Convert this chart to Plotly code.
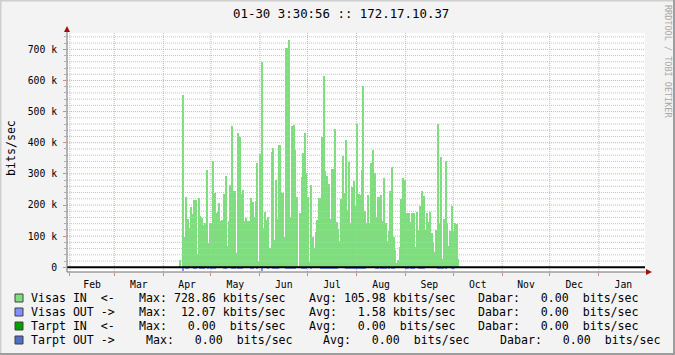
import plotly.graph_objects as go
import pandas as pd

# ---------------- data ----------------
start_date = "2011-04-11"          # first day with traffic
range_start = "2011-01-30 03:30:56"
range_end = "2012-01-30 03:30:56"

# daily average inbound traffic (kbit/s), Apr 11 .. Oct 4
visas_in_k = [
    23, 0, 553, 96, 227, 154, 125, 195, 171, 216,
    216, 43, 224, 166, 159, 136, 143, 313, 79, 141,
    141, 341, 240, 175, 178, 207, 149, 152, 235, 293,
    70, 150, 264, 454, 245, 245, 47, 430, 417, 235,
    248, 150, 159, 149, 149, 222, 211, 163, 214, 336,
    21, 364, 660, 125, 179, 152, 160, 63, 371, 382,
    88, 280, 155, 393, 240, 240, 96, 704, 704, 729,
    163, 454, 457, 377, 227, 5, 175, 291, 366, 430,
    304, 227, 18, 264, 98, 61, 114, 152, 224, 224,
    420, 614, 309, 293, 268, 154, 315, 315, 444, 146,
    124, 86, 218, 357, 240, 409, 184, 339, 141, 259,
    277, 197, 460, 235, 232, 313, 582, 181, 143, 232,
    143, 334, 377, 302, 163, 227, 227, 232, 150, 287,
    141, 86, 117, 245, 323, 98, 54, 15, 24, 64,
    218, 286, 280, 175, 175, 175, 147, 175, 175, 66,
    179, 120, 197, 245, 229, 120, 175, 147, 179, 111,
    77, 50, 120, 460, 143, 355, 26, 154, 342, 143,
    69, 117, 197, 117, 143, 139, 26,
]
# daily average outbound traffic (kbit/s), same days (drawn downwards)
visas_out_k = [
    0.5, 0.5, 11, 1, 5, 5, 1, 1, 1, 5,
    5, 1, 1, 5, 4, 5, 1, 1, 5, 1,
    5, 6, 5, 1, 1, 1, 1, 1, 5, 5,
    1, 1, 1, 5, 5, 4, 1, 5, 6, 5,
    1, 1, 1, 1, 1, 5, 5, 1, 1, 5,
    1, 1, 12.07, 1, 1, 1, 5, 1, 1, 5,
    5, 4, 5, 1, 1, 1, 1, 5, 5, 6,
    5, 5, 4, 5, 1, 1, 1, 5, 5, 5,
    5, 1, 1, 5, 1, 1, 1, 1, 1, 5,
    5, 5, 6, 5, 5, 4, 5, 5, 5, 5,
    1, 1, 1, 1, 1, 5, 5, 6, 5, 5,
    5, 4, 5, 5, 5, 6, 5, 5, 1, 1,
    1, 1, 1, 1, 5, 5, 1, 5, 5, 4,
    5, 1, 5, 1, 5, 5, 1, 1, 1, 1,
    1, 1, 1, 5, 5, 1, 5, 6, 5, 1,
    1, 5, 5, 4, 5, 1, 1, 1, 1, 1,
    1, 1, 1, 5, 5, 6, 5, 1, 5, 1,
    1, 1, 5, 5, 1, 1, 1,
]

y_tick_vals = [0, 100000, 200000, 300000, 400000, 500000, 600000, 700000]
y_tick_text = ["0", "100 k", "200 k", "300 k", "400 k", "500 k", "600 k", "700 k"]
y_minor_vals = [v for v in range(20000, 760000, 20000) if v % 100000]

title_text = "01-30 3:30:56 :: 172.17.10.37"
legend_names = ["Visas IN  <-", "Visas OUT ->", "Tarpt IN  <-", "Tarpt OUT ->"]
legend_max = ["Max: 728.86 kbits/sec", "Max:  12.07 kbits/sec", "Max:   0.00  bits/sec", "Max:   0.00  bits/sec"]
legend_avg = ["Avg: 105.98 kbits/sec", "Avg:   1.58 kbits/sec", "Avg:   0.00  bits/sec", "Avg:   0.00  bits/sec"]
legend_cur = ["Dabar:   0.00  bits/sec"] * 4
legend_colors = ["#7fdc7f", "#8090ff", "#00a000", "#4f6fc8"]

# ---------------- figure ----------------
W, H = 675, 355
L, R, T, B = 67, 645, 33, 272
Y0, Y1 = -15100, 752400
FONT = "DejaVu Sans Mono"


def px(x):
    return (x - L) / (R - L)


def py(y):
    return (B - y) / (B - T)


def nb(s):
    return s.replace(" ", "\u00a0")


days = pd.date_range(start_date, periods=len(visas_in_k), freq="D") + pd.Timedelta(hours=12)
DAY_MS = 86400000

fig = go.Figure()
fig.add_trace(go.Bar(x=days, y=[v * 1000 for v in visas_in_k], width=DAY_MS,
                     marker=dict(color=legend_colors[0], line=dict(width=0)),
                     hoverinfo="skip"))
fig.add_trace(go.Bar(x=days, y=[-v * 1000 for v in visas_out_k], width=DAY_MS,
                     marker=dict(color=legend_colors[1], line=dict(width=0)),
                     hoverinfo="skip"))

shapes = []
# grid drawn above the data (as rrdtool does)
for v in y_minor_vals:
    shapes.append(dict(type="line", xref="paper", yref="y", x0=0, x1=1, y0=v, y1=v,
                       line=dict(color="#c4c4c4", width=1, dash="1px,1px"), layer="above"))
for v in y_tick_vals[1:]:
    shapes.append(dict(type="line", xref="paper", yref="y", x0=0, x1=1, y0=v, y1=v,
                       line=dict(color="#e6a8a8", width=1, dash="1px,1px"), layer="above"))
month_starts = pd.date_range("2011-02-01", "2012-01-01", freq="MS")
for d in month_starts:
    shapes.append(dict(type="line", xref="x", yref="paper", x0=d, x1=d, y0=0, y1=1,
                       line=dict(color="#e6a8a8", width=1, dash="1px,1px"), layer="above"))
# zero rule
shapes.append(dict(type="line", xref="paper", yref="y", x0=0, x1=1, y0=0, y1=0,
                   line=dict(color="#000000", width=2), layer="above"))
# axes with arrows
shapes.append(dict(type="line", xref="paper", yref="paper", x0=px(L), x1=px(L), y0=py(B), y1=py(29),
                   line=dict(color="#707070", width=1), layer="above"))
shapes.append(dict(type="line", xref="paper", yref="paper", x0=px(L), x1=px(648), y0=py(B), y1=py(B),
                   line=dict(color="#707070", width=1), layer="above"))
shapes.append(dict(type="path", xref="paper", yref="paper",
                   path=f"M{px(64)},{py(32)} L{px(67)},{py(26)} L{px(70)},{py(32)} Z",
                   fillcolor="#a01010", line=dict(width=0), layer="above"))
shapes.append(dict(type="path", xref="paper", yref="paper",
                   path=f"M{px(646)},{py(B-3)} L{px(652)},{py(B)} L{px(646)},{py(B+3)} Z",
                   fillcolor="#a01010", line=dict(width=0), layer="above"))
# frame of the image
shapes.append(dict(type="rect", xref="paper", yref="paper", x0=px(0), x1=px(675), y0=py(0), y1=py(355),
                   line=dict(width=0), fillcolor="rgba(0,0,0,0)"))
shapes.append(dict(type="line", xref="paper", yref="paper", x0=px(0.5), x1=px(0.5), y0=py(0), y1=py(355),
                   line=dict(color="#cfcfcf", width=2)))
shapes.append(dict(type="line", xref="paper", yref="paper", x0=px(0), x1=px(675), y0=py(0.5), y1=py(0.5),
                   line=dict(color="#cfcfcf", width=2)))
shapes.append(dict(type="line", xref="paper", yref="paper", x0=px(674), x1=px(674), y0=py(0), y1=py(355),
                   line=dict(color="#9e9e9e", width=2)))
shapes.append(dict(type="line", xref="paper", yref="paper", x0=px(0), x1=px(675), y0=py(354), y1=py(354),
                   line=dict(color="#9e9e9e", width=2)))

annotations = []
annotations.append(dict(text=nb(title_text), xref="paper", yref="paper", x=px(341), y=py(14),
                        xanchor="center", yanchor="middle", showarrow=False,
                        font=dict(family=FONT, size=12.4, color="#000000")))
annotations.append(dict(text="bits/sec", xref="paper", yref="paper", x=px(11), y=py(148),
                        xanchor="center", yanchor="middle", showarrow=False, textangle=-90,
                        font=dict(family=FONT, size=11.6, color="#000000")))
annotations.append(dict(text=nb("RRDTOOL / TOBI OETIKER"), xref="paper", yref="paper", x=px(668), y=py(61),
                        xanchor="center", yanchor="middle", showarrow=False, textangle=90,
                        font=dict(family=FONT, size=8.5, color="#a8a8a8")))

row_y = [298, 312, 326, 340]
col_x = [[30, 137.8, 307.8, 477], [30, 137.8, 307.8, 477], [30, 137.8, 307.8, 477], [30, 145, 322, 498.5]]
for i in range(4):
    yy = row_y[i]
    shapes.append(dict(type="rect", xref="paper", yref="paper",
                       x0=px(15), x1=px(23), y0=py(yy - 4), y1=py(yy + 4),
                       fillcolor=legend_colors[i], line=dict(color="#404040", width=1)))
    for txt, xx in zip([legend_names[i], legend_max[i], legend_avg[i], legend_cur[i]], col_x[i]):
        annotations.append(dict(text=nb(txt), xref="paper", yref="paper", x=px(xx), y=py(yy),
                                xanchor="left", yanchor="middle", showarrow=False, borderpad=0,
                                font=dict(family=FONT, size=11.6, color="#000000")))

fig.update_layout(
    width=W, height=H,
    margin=dict(l=L, r=W - R, t=T, b=H - B, pad=0),
    paper_bgcolor="#f3f3f3",
    plot_bgcolor="#ffffff",
    barmode="overlay",
    bargap=0,
    showlegend=False,
    shapes=shapes,
    annotations=annotations,
    xaxis=dict(
        type="date", range=[range_start, range_end],
        tick0="2011-02-01", dtick="M1", ticklabelmode="period", tickformat="%b",
        ticks="outside", ticklen=3, tickcolor="#e08080",
        showgrid=False, zeroline=False, showline=False,
        tickfont=dict(family=FONT, size=9.75, color="#000000"),
        fixedrange=True,
    ),
    yaxis=dict(
        range=[Y0, Y1],
        tickvals=y_tick_vals, ticktext=y_tick_text,
        ticks="outside", ticklen=3, tickcolor="#e08080",
        minor=dict(tickvals=y_minor_vals, ticks="outside", ticklen=2, tickcolor="#b0b0b0", showgrid=False),
        showgrid=False, zeroline=False, showline=False,
        ticklabelstandoff=4,
        tickfont=dict(family=FONT, size=9.75, color="#000000"),
        fixedrange=True,
    ),
)

fig.write_html("out.html")
